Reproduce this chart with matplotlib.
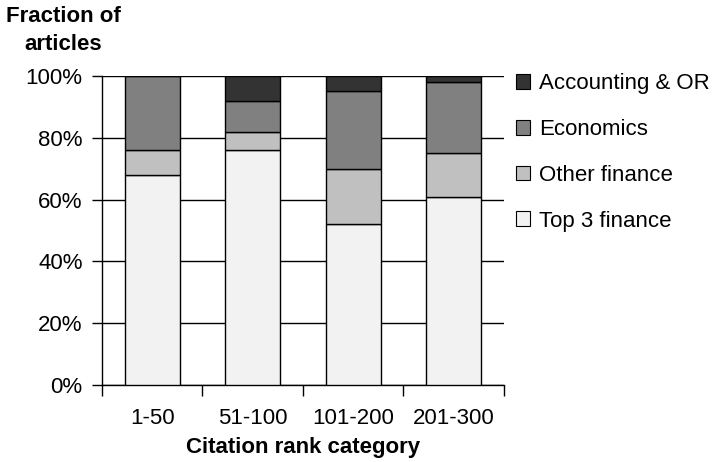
import matplotlib
matplotlib.use("Agg")
import matplotlib.pyplot as plt
from matplotlib.patches import Patch
from matplotlib.ticker import FixedLocator, PercentFormatter
import numpy as np

categories = ["1-50", "51-100", "101-200", "201-300"]
top3_finance = [68, 76, 52, 61]
other_finance = [8, 6, 18, 14]
economics = [24, 10, 25, 23]
accounting_or = [0, 8, 5, 2]
series_names = ["Top 3 finance", "Other finance", "Economics", "Accounting & OR"]
series_colors = ["#f2f2f2", "#c0c0c0", "#808080", "#333333"]
y_ticks = [0, 20, 40, 60, 80, 100]

plt.rcParams['font.family'] = ['Liberation Sans', 'DejaVu Sans']
FS = 16

fig = plt.figure(figsize=(7.12, 4.62), dpi=100)
ax = fig.add_axes([102/712, 1-385/462, 402/712, 309/462])

x = np.arange(len(categories))
bottom = np.zeros(len(categories))
handles = []
for vals, name, col in zip([top3_finance, other_finance, economics, accounting_or],
                           series_names, series_colors):
    ax.bar(x, vals, width=0.55, bottom=bottom, color=col, edgecolor="black",
           linewidth=1.0, zorder=3)
    bottom += np.array(vals)
    handles.append(Patch(facecolor=col, edgecolor="black", linewidth=0.8, label=name))

ax.set_xlim(-0.5, len(categories) - 0.5)
ax.set_ylim(0, 100)
ax.set_yticks(y_ticks)
ax.yaxis.set_major_formatter(PercentFormatter(decimals=0))
ax.set_xticks(x)
ax.set_xticklabels(categories)
ax.xaxis.set_minor_locator(FixedLocator(np.arange(-0.5, len(categories), 1.0)))
ax.tick_params(axis='x', which='major', length=0, pad=16.5, labelsize=FS)
ax.tick_params(axis='x', which='minor', length=8, width=1, direction='out')
ax.tick_params(axis='y', length=7, width=1, direction='out', pad=7, labelsize=FS)
ax.yaxis.grid(True, color="black", linewidth=1.0, zorder=0)
ax.set_axisbelow(True)
for s in ["top", "right"]:
    ax.spines[s].set_visible(False)
for s in ["left", "bottom"]:
    ax.spines[s].set_linewidth(1.0)

leg = fig.legend(handles=handles[::-1], loc='upper left',
                 bbox_to_anchor=(516/712, 1-73/462), frameon=False,
                 fontsize=FS, handlelength=0.65, handleheight=0.65,
                 handletextpad=0.4, labelspacing=1.12, borderpad=0, borderaxespad=0)

fig.text(63/712, 1-17/462, "Fraction of", ha='center', va='center',
         fontsize=FS, fontweight='bold')
fig.text(63/712, 1-45/462, "articles", ha='center', va='center',
         fontsize=FS, fontweight='bold')
fig.text(303/712, 1-448/462, "Citation rank category", ha='center', va='center',
         fontsize=FS, fontweight='bold')

fig.savefig("out.png", dpi=100)
